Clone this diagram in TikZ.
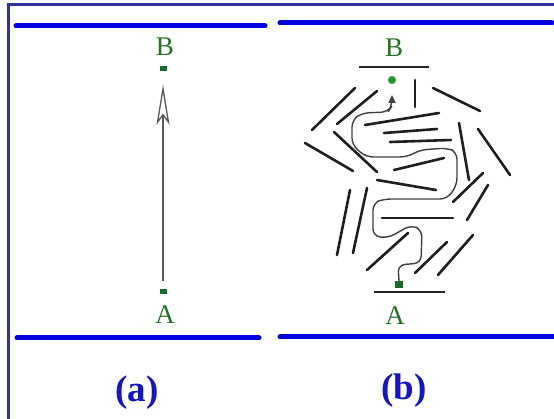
\documentclass[tikz,border=0pt]{standalone}
\usepackage{fontspec}
\setmainfont{Liberation Serif}
\usetikzlibrary{arrows.meta}
\definecolor{framec}{RGB}{50,50,160}
\definecolor{bandc}{RGB}{0,0,225}
\definecolor{lblc}{RGB}{35,115,35}
\definecolor{dotc}{RGB}{20,110,40}
\definecolor{circc}{RGB}{30,150,50}
\definecolor{capc}{RGB}{20,20,200}
\tikzset{
  frameline/.style={draw=framec, line width=3pt},
  band/.style={draw=bandc, line width=5pt, line cap=round},
  ptlbl/.style={text=lblc, font=\fontsize{27}{29}\selectfont, inner sep=0pt},
  caplbl/.style={text=capc, font=\bfseries\fontsize{37}{39}\selectfont, inner sep=0pt},
  sqdot/.style={fill=dotc, draw=none, minimum width=7pt, minimum height=5pt, inner sep=0pt},
  wall/.style={draw=black!88, line width=2.6pt, line cap=round},
  bar/.style={draw=black!85, line width=2pt},
  route/.style={draw=black!75, line width=1.4pt, rounded corners=7pt},
}
\begin{document}
\begin{tikzpicture}[x=1pt,y=-1pt]
\useasboundingbox (0,0) rectangle (554,419);
\fill[white] (0,0) rectangle (554,419);
% frame
\draw[frameline] (8,419) -- (8,5) -- (554,5);
% blue bands
\draw[band] (16,26) -- (265,26);
\draw[band] (280,23) -- (552,23);
\draw[band] (17,338) -- (259,338);
\draw[band] (280,337) -- (556,337);
% panel (a)
\node[ptlbl] (Bla) at (165,47) {B};
\node[sqdot] (Bda) at (163,69) {};
\node[sqdot] (Ada) at (163,292) {};
\node[ptlbl] (Ala) at (165,315) {A};
\draw[draw=black!65, line width=1.3pt, shorten <=8pt, shorten >=13pt,
  -{Stealth[open, length=40pt, width=13pt, inset=9pt]}] (Ada) -- (Bda);
\node[caplbl] (capa) at (137,393) {(a)};
% panel (b)
\node[ptlbl] (Blb) at (394,48) {B};
\coordinate (bl1) at (359,67);
\coordinate (bl2) at (429,67);
\draw[bar] (bl1) -- (bl2);
\node[circle, fill=circc, minimum size=8pt, inner sep=0pt] (Bdb) at (392,80) {};
\node[sqdot, minimum width=8pt, minimum height=7pt] (Adb) at (399,285) {};
\coordinate (al1) at (374,292);
\coordinate (al2) at (445,292);
\draw[bar] (al1) -- (al2);
\node[ptlbl] (Alb) at (395,316) {A};
\node[caplbl] (capb) at (404,391) {(b)};
% walls
\foreach \a/\b/\c/\d in {
 312/130/355/88, 337/124/377/91, 415/80/415/107, 433/88/480/111,
 365/125/439/113, 384/133/437/129, 390/142/451/140, 305/143/353/171,
 334/132/377/172, 394/170/444/158, 459/123/469/180, 478/129/510/175,
 377/180/436/190, 453/202/483/173, 467/220/488/185, 350/190/337/255,
 367/188/353/253, 382/218/453/218, 367/270/408/233, 415/273/447/242,
 438/275/473/235}
 \draw[wall] (\a,\b) -- (\c,\d);
% route
\coordinate (tipb) at (392,95);
\draw[route, -{Triangle[length=8pt, width=7pt]}] (Adb.north) -- (398,265) -- (421,263) -- (422,230) -- (411,225)
 -- (388,238) -- (373,236) -- (373,203) -- (384,199) -- (447,199) -- (457,185)
 -- (457,152) -- (447,148) -- (420,150) -- (407,157) -- (366,157) -- (352,145)
 -- (352,120) -- (362,113) -- (388,112) -- (392,106) -- (tipb);
\end{tikzpicture}
\end{document}
